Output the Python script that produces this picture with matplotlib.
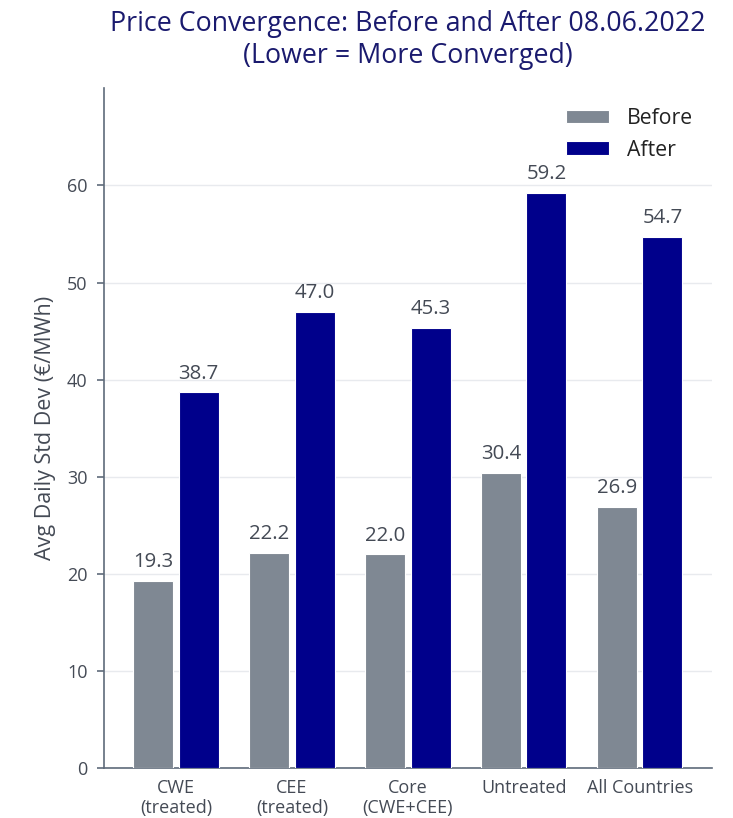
import numpy as np
import matplotlib
matplotlib.use('Agg')
from matplotlib import pyplot as plt

plt.rcParams['font.family'] = ['Open Sans', 'DejaVu Sans']

# chart data
categories = ['CWE\n(treated)', 'CEE\n(treated)', 'Core\n(CWE+CEE)', 'Untreated', 'All Countries']
before = [19.3, 22.2, 22.0, 30.4, 26.9]
after = [38.7, 47.0, 45.3, 59.2, 54.7]

gray = '#7f8893'
navy = '#00008b'
axis_col = '#5f6b7a'
text_col = '#444a55'

fig = plt.figure(figsize=(7.33, 8.18), dpi=100)
ax = fig.add_axes([0.142, 0.061, 0.829, 0.831])

x = np.arange(len(categories))
w = 0.345
off = 0.195
b1 = ax.bar(x - off, before, w, color=gray, edgecolor='white', linewidth=0.8, label='Before', zorder=3)
b2 = ax.bar(x + off, after, w, color=navy, edgecolor='white', linewidth=0.8, label='After', zorder=3)

for bars, vals in [(b1, before), (b2, after)]:
    for r, v in zip(bars, vals):
        ax.text(r.get_x() + r.get_width() / 2, v + 0.9, f'{v:.1f}', ha='center', va='bottom',
                fontsize=14.7, color=text_col)

ax.set_xlim(-0.62, 4.62)
ax.set_ylim(0, 70)
ax.set_yticks(np.arange(0, 70, 10))
ax.yaxis.grid(True, color='#e8eaee', linewidth=1, zorder=0)
ax.set_axisbelow(True)

for s in ['top', 'right']:
    ax.spines[s].set_visible(False)
for s in ['left', 'bottom']:
    ax.spines[s].set_color(axis_col)
    ax.spines[s].set_linewidth(1.2)

ax.set_xticks(x)
ax.set_xticklabels(categories, fontsize=13, color=text_col, linespacing=1.15)
ax.tick_params(axis='x', length=0, pad=8)
ax.tick_params(axis='y', length=5, width=1.2, color=axis_col, labelsize=13, labelcolor=text_col, pad=7)

ax.set_ylabel('Avg Daily Std Dev (€/MWh)', fontsize=15.5, color=text_col, labelpad=8)

ax.set_title('Price Convergence: Before and After 08.06.2022\n(Lower = More Converged)',
             fontsize=19.3, color='#1a1a6e', pad=18, linespacing=1.2)

leg = ax.legend(loc='upper right', bbox_to_anchor=(0.99, 0.99), frameon=False, fontsize=15.3,
                handlelength=2.0, handleheight=0.62, handletextpad=0.85, labelcolor='#222222',
                labelspacing=0.5, borderaxespad=0.2)

fig.savefig('out.png', dpi=100)
